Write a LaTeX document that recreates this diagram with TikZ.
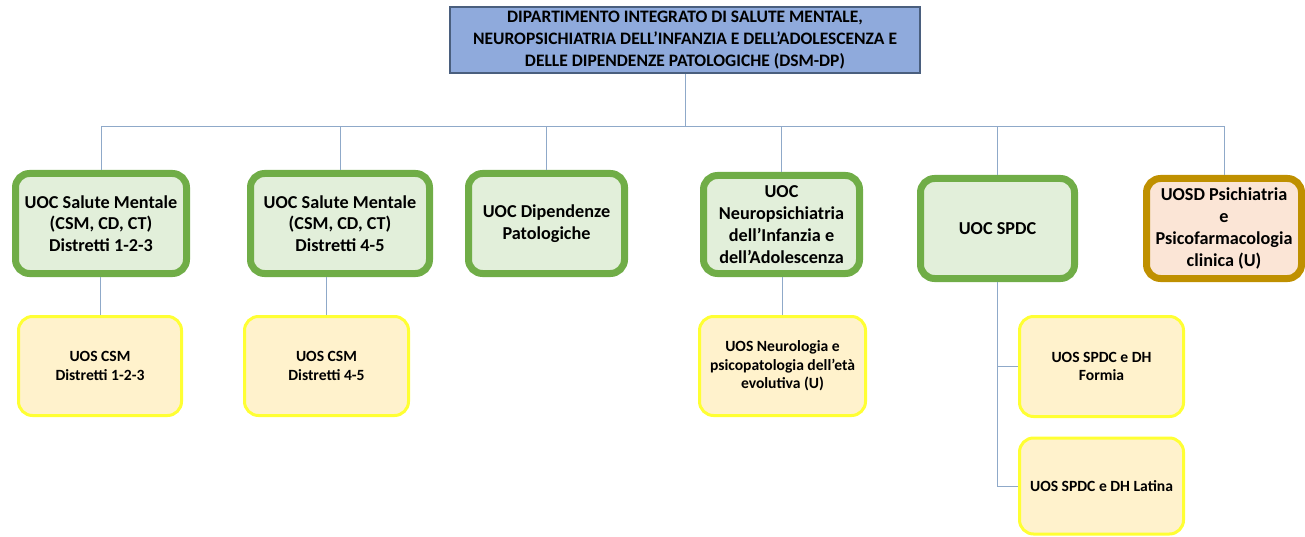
\documentclass[tikz,border=0pt]{standalone}
\usepackage{fontspec}
\setmainfont{Carlito}
\definecolor{deptfill}{HTML}{8FAADC}
\definecolor{deptline}{HTML}{4A5F7E}
\definecolor{uocfill}{HTML}{E2EFDA}
\definecolor{uocline}{HTML}{70AD47}
\definecolor{uosdfill}{HTML}{FBE5D6}
\definecolor{uosdline}{HTML}{BF9000}
\definecolor{uosfill}{HTML}{FFF2CC}
\definecolor{uosline}{HTML}{FFFF33}
\definecolor{linkcol}{HTML}{8FA9C9}
\begin{document}
\begin{tikzpicture}[x=1pt, y=-1pt,
    dept/.style={draw=deptline, fill=deptfill, line width=1.2pt, minimum width=470pt,
      minimum height=66pt, inner sep=0pt, outer sep=0.6pt, align=center,
      font=\bfseries\fontsize{17.5}{22}\selectfont},
    uoc/.style={draw=uocline, fill=uocfill, line width=7pt, rounded corners=14pt,
      inner sep=0pt, outer sep=3.5pt, align=center, font=\bfseries\fontsize{18.2}{21.8}\selectfont},
    uosd/.style={uoc, draw=uosdline, fill=uosdfill},
    uos/.style={draw=uosline, fill=uosfill, line width=3pt, rounded corners=14pt,
      inner sep=0pt, outer sep=1.5pt, align=center, font=\bfseries\fontsize{15.6}{18.5}\selectfont},
    link/.style={draw=linkcol, line width=1pt}]
    \useasboundingbox (0,0) rectangle (1305,537);

    % department
    \node[dept] (dept) at (685,40) {DIPARTIMENTO INTEGRATO DI SALUTE MENTALE,\\
      NEUROPSICHIATRIA DELL'INFANZIA E DELL'ADOLESCENZA E\\
      DELLE DIPENDENZE PATOLOGICHE (DSM-DP)};

    % complex units
    \node[uoc, minimum width=171pt, minimum height=100pt] (uoc1) at (101,223.5)
      {UOC Salute Mentale\\(CSM, CD, CT)\\Distretti 1-2-3};
    \node[uoc, minimum width=179pt, minimum height=100pt] (uoc2) at (340,223.5)
      {UOC Salute Mentale\\(CSM, CD, CT)\\Distretti 4-5};
    \node[uoc, minimum width=156pt, minimum height=100pt] (uoc3) at (546.5,223.5)
      {UOC Dipendenze\\Patologiche};
    \node[uoc, minimum width=156pt, minimum height=98pt] (uoc4) at (781.5,224.5)
      {UOC\\Neuropsichiatria\\dell'Infanzia e\\dell'Adolescenza};
    \node[uoc, minimum width=154pt, minimum height=100pt] (uoc5) at (997.5,228.5)
      {UOC SPDC};
    \node[uosd, minimum width=155pt, minimum height=100pt] (uosd) at (1224,228.5)
      {UOSD Psichiatria\\e\\Psicofarmacologia\\clinica (U)};

    % simple units
    \node[uos, minimum width=163pt, minimum height=99pt] (uos1) at (100,366)
      {UOS CSM\\Distretti 1-2-3};
    \node[uos, minimum width=164pt, minimum height=99pt] (uos2) at (326.5,366)
      {UOS CSM\\Distretti 4-5};
    \node[uos, minimum width=166pt, minimum height=99pt] (uos3) at (782.5,366)
      {UOS Neurologia e\\psicopatologia dell'età\\evolutiva (U)};
    \node[uos, minimum width=164pt, minimum height=100pt] (uos4) at (1101.5,366.5)
      {UOS SPDC e DH\\Formia};
    \node[uos, minimum width=164pt, minimum height=96pt] (uos5) at (1101.5,486)
      {UOS SPDC e DH Latina};

    % links
    \draw[link] (dept.south) -- ++(0,53) coordinate (bus);
    \foreach \u in {uoc1,uoc2,uoc3,uoc4,uoc5,uosd}
      \draw[link] (\u.north) |- (bus);
    \foreach \c/\p in {uos1/uoc1,uos2/uoc2,uos3/uoc4}
      \draw[link] (\c.north) -- (\c.north |- \p.south);
    \draw[link] (uoc5.south) |- (uos4.west);
    \draw[link] (uoc5.south) |- (uos5.west);
\end{tikzpicture}
\end{document}
